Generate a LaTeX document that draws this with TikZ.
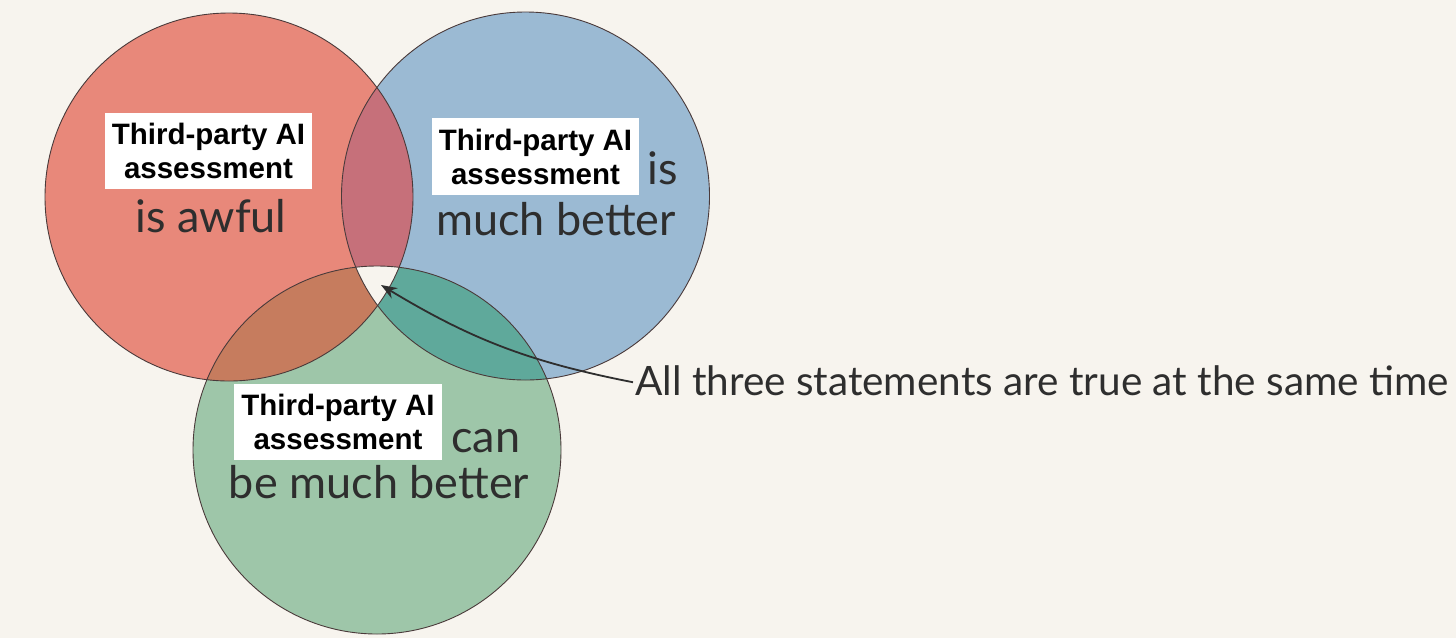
\documentclass[tikz,border=0pt]{standalone}
\usepackage{fontspec}
\setmainfont{Lato}
\newfontfamily\arialfont{Liberation Sans}
\usetikzlibrary{arrows.meta}
\definecolor{bg}{HTML}{F7F4EE}
\definecolor{redc}{HTML}{E8887A}
\definecolor{bluec}{HTML}{9BBAD3}
\definecolor{greenc}{HTML}{9EC6A9}
\definecolor{rbc}{HTML}{C6707A}
\definecolor{rgc}{HTML}{C67C5E}
\definecolor{bgc}{HTML}{5FA99B}
\definecolor{txt}{HTML}{2E2E2E}
\definecolor{edge}{HTML}{4A3A3A}
\tikzset{
  labelbox/.style={fill=white, align=center, text=black,
    font=\arialfont\bfseries\fontsize{29.5}{34}\selectfont,
    inner xsep=7pt, inner ysep=10.5pt},
  bigtext/.style={text=txt, font=\fontsize{45}{50}\selectfont, inner sep=0pt, anchor=base},
  outline/.style={draw=edge, line width=0.9pt},
}
\begin{document}
\begin{tikzpicture}[x=1pt,y=-1pt]
\useasboundingbox (0,0) rectangle (1456,638);
\fill[bg] (0,0) rectangle (1456,638);
\coordinate (R) at (229,197);
\coordinate (B) at (525.5,196);
\coordinate (G) at (377,450);
\def\rr{184}
% base fills
\fill[redc] (R) circle[radius=\rr];
\fill[bluec] (B) circle[radius=\rr];
\fill[greenc] (G) circle[radius=\rr];
% pairwise overlaps
\begin{scope}
  \clip (R) circle[radius=\rr];
  \fill[rbc] (B) circle[radius=\rr];
  \fill[rgc] (G) circle[radius=\rr];
\end{scope}
\begin{scope}
  \clip (B) circle[radius=\rr];
  \fill[bgc] (G) circle[radius=\rr];
\end{scope}
% triple overlap left blank
\begin{scope}
  \clip (R) circle[radius=\rr];
  \clip (B) circle[radius=\rr];
  \fill[bg] (G) circle[radius=\rr];
\end{scope}
% outlines
\draw[outline] (R) circle[radius=\rr];
\draw[outline] (B) circle[radius=\rr];
\draw[outline] (G) circle[radius=\rr];
% labels
\node[labelbox] (rbox) at (208.5,151) {Third-party AI\\assessment};
\node[bigtext] (rtxt) at (211,232) {is awful};
\node[labelbox] (bbox) at (535.5,156.5) {Third-party AI\\assessment};
\node[bigtext, anchor=base west] (btxt1) at (647,184) {is};
\node[bigtext] (btxt2) at (556,235) {much better};
\node[labelbox] (gbox) at (338,422) {Third-party AI\\assessment};
\node[bigtext, anchor=base west] (gtxt1) at (451,452) {can};
\node[bigtext] (gtxt2) at (379,498) {be much better};
\node[text=txt, font=\fontsize{40.5}{46}\selectfont, inner sep=0pt, anchor=base west] (note) at (635,395) {All three statements are true at the same time};
\coordinate (tip) at (381,285);
\draw[-{Stealth[length=16pt,width=12pt]}, line width=1.8pt, txt] ([xshift=-2pt,yshift=-2pt]note.west) to[bend left=10] (tip);
\end{tikzpicture}
\end{document}
